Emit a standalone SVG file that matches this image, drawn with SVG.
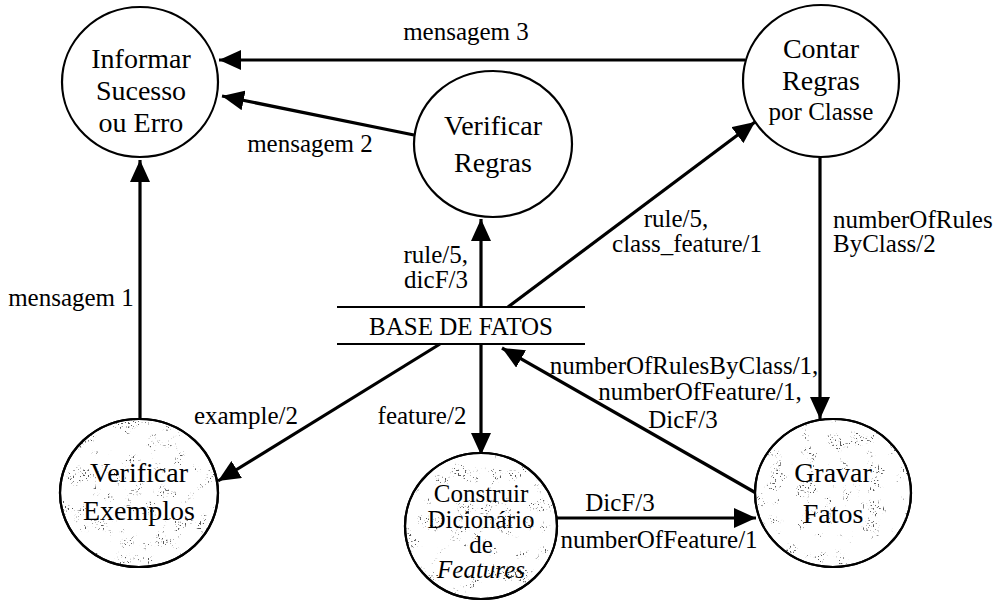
<svg xmlns="http://www.w3.org/2000/svg" width="1003" height="603" viewBox="0 0 1003 603">
  <style>
    .proc { fill: #ffffff; stroke: #000000; stroke-width: 2.2; }
    .ring { fill: none; stroke: #000000; stroke-width: 2.2; }
    .flow { fill: none; stroke: #000000; stroke-width: 3.2; marker-end: url(#arrow); }
    .store { stroke: #000000; stroke-width: 2; }
    .ntext { font-family: 'Liberation Serif', serif; font-size: 28px; fill: #000000; text-anchor: middle; }
    .small { font-size: 25px; }
    .label { font-family: 'Liberation Serif', serif; font-size: 25px; fill: #000000; }
    .mid { text-anchor: middle; }
    .end { text-anchor: end; }
  </style>
  <defs>
    <marker id="arrow" markerUnits="userSpaceOnUse" markerWidth="23" markerHeight="20" refX="22" refY="10" orient="auto">
      <path d="M0,0 L22,10 L0,20 z" fill="#000000"/>
    </marker>
    <!-- grainy stipple used to shade the lower processes -->
    <filter id="stipple" filterUnits="userSpaceOnUse" x="0" y="0" width="1003" height="603">
      <feTurbulence type="fractalNoise" baseFrequency="0.6" numOctaves="1" seed="4" result="fine"/>
      <feColorMatrix in="fine" type="matrix" values="0 0 0 0 0.1  0 0 0 0 0.1  0 0 0 0 0.1  12 0 0 0 -7.2" result="dots"/>
      <feTurbulence type="fractalNoise" baseFrequency="0.06" numOctaves="2" seed="11" result="coarse"/>
      <feColorMatrix in="coarse" type="matrix" values="0 0 0 0 0  0 0 0 0 0  0 0 0 0 0  10 0 0 0 -5.5" result="mask"/>
      <feComposite in="dots" in2="mask" operator="in"/>
    </filter>
    <clipPath id="clipExemplos"><ellipse cx="139" cy="493" rx="78" ry="73"/></clipPath>
    <clipPath id="clipDicionario"><ellipse cx="481" cy="526" rx="75" ry="72"/></clipPath>
    <clipPath id="clipGravar"><ellipse cx="833" cy="493" rx="77" ry="73"/></clipPath>
  </defs>

  <rect x="0" y="0" width="1003" height="603" fill="#ffffff"/>

  <!-- data flows -->
  <g id="connectors">
    <path class="flow" d="M745,60 L219,60"/>
    <path class="flow" d="M414,135 L222,96"/>
    <path class="flow" d="M140,419 L140,160"/>
    <path class="flow" d="M481,307 L481,219"/>
    <path class="flow" d="M508,307 L755,122"/>
    <path class="flow" d="M820,157 L820,419"/>
    <path class="flow" d="M756,493 L502,348"/>
    <path class="flow" d="M440,344 L218,481"/>
    <path class="flow" d="M481,344 L481,455"/>
    <path class="flow" d="M557,518 L756,518"/>

    <text class="label mid" x="466" y="40">mensagem 3</text>
    <text class="label mid" x="310" y="152">mensagem 2</text>
    <text class="label mid" x="71" y="306">mensagem 1</text>
    <text class="label end" x="468" y="263">rule/5,</text>
    <text class="label end" x="468" y="288">dicF/3</text>
    <text class="label mid" x="676" y="227">rule/5,</text>
    <text class="label mid" x="687" y="252">class_feature/1</text>
    <text class="label" x="833" y="228">numberOfRules</text>
    <text class="label" x="833" y="252">ByClass/2</text>
    <text class="label mid" x="684" y="374">numberOfRulesByClass/1,</text>
    <text class="label mid" x="700" y="400">numberOfFeature/1,</text>
    <text class="label mid" x="683" y="428">DicF/3</text>
    <text class="label mid" x="246" y="424">example/2</text>
    <text class="label mid" x="422" y="424">feature/2</text>
    <text class="label mid" x="620" y="511">DicF/3</text>
    <text class="label mid" x="659" y="548">numberOfFeature/1</text>
  </g>

  <!-- data store -->
  <g id="base-de-fatos">
    <line class="store" x1="337" y1="307" x2="585" y2="307"/>
    <line class="store" x1="337" y1="344" x2="585" y2="344"/>
    <text class="label mid" x="461" y="335">BASE DE FATOS</text>
  </g>

  <!-- processes -->
  <g id="informar">
    <ellipse class="proc" cx="140" cy="82" rx="78" ry="75"/>
    <text class="ntext" x="141" y="68">Informar</text>
    <text class="ntext" x="141" y="100">Sucesso</text>
    <text class="ntext" x="141" y="132">ou Erro</text>
  </g>

  <g id="verificar-regras">
    <ellipse class="proc" cx="493" cy="144" rx="79" ry="73"/>
    <text class="ntext" x="493" y="135">Verificar</text>
    <text class="ntext" x="493" y="172">Regras</text>
  </g>

  <g id="contar-regras">
    <ellipse class="proc" cx="821" cy="81" rx="78" ry="76"/>
    <text class="ntext" x="821" y="58">Contar</text>
    <text class="ntext" x="821" y="90">Regras</text>
    <text class="ntext small" x="821" y="120">por Classe</text>
  </g>

  <g id="verificar-exemplos">
    <ellipse class="proc" cx="139" cy="493" rx="79" ry="74"/>
    <rect x="60" y="419" width="158" height="148" fill="#000" filter="url(#stipple)" clip-path="url(#clipExemplos)"/>
    <ellipse class="ring" cx="139" cy="493" rx="79" ry="74"/>
    <text class="ntext" x="139" y="482">Verificar</text>
    <text class="ntext" x="139" y="520">Exemplos</text>
  </g>

  <g id="construir-dicionario">
    <ellipse class="proc" cx="481" cy="526" rx="76" ry="73"/>
    <rect x="405" y="453" width="152" height="146" fill="#000" filter="url(#stipple)" clip-path="url(#clipDicionario)"/>
    <ellipse class="ring" cx="481" cy="526" rx="76" ry="73"/>
    <text class="ntext small" x="481" y="502">Construir</text>
    <text class="ntext small" x="481" y="528">Dicionário</text>
    <text class="ntext small" x="481" y="553">de</text>
    <text class="ntext small" x="481" y="578" font-style="italic">Features</text>
  </g>

  <g id="gravar-fatos">
    <ellipse class="proc" cx="833" cy="493" rx="78" ry="74"/>
    <rect x="755" y="419" width="156" height="148" fill="#000" filter="url(#stipple)" clip-path="url(#clipGravar)"/>
    <ellipse class="ring" cx="833" cy="493" rx="78" ry="74"/>
    <text class="ntext" x="833" y="482">Gravar</text>
    <text class="ntext" x="833" y="523">Fatos</text>
  </g>
</svg>
